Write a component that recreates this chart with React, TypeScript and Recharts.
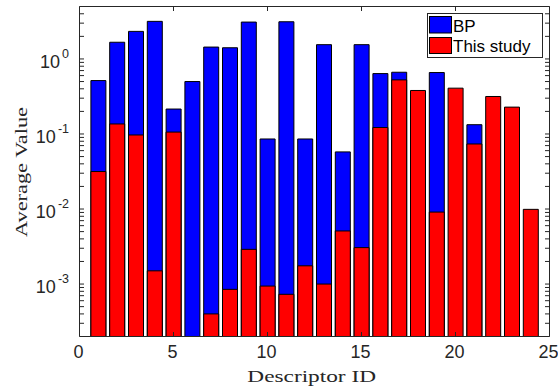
import React from 'react';
import { BarChart, Bar, XAxis, YAxis } from 'recharts';

// descriptor ids and average values
const ids = [1, 2, 3, 4, 5, 6, 7, 8, 9, 10, 11, 12, 13, 14, 15, 16, 17, 18, 19, 20, 21, 22, 23, 24];
const bpValues = [
    0.515, 1.67, 2.33, 3.17, 0.215, 0.5, 1.44, 1.41, 3.1, 0.0858, 3.13, 0.0858,
    1.55, 0.0577, 1.55, 0.638, 0.665, null, 0.659, null, 0.133, null, null, null,
];
const studyValues = [
    0.0316, 0.136, 0.097, 0.0015, 0.106, null, 0.0004, 0.00085, 0.0029, 0.00094, 0.00073, 0.00175,
    0.001, 0.0051, 0.00306, 0.122, 0.526, 0.38, 0.0091, 0.408, 0.0736, 0.316, 0.228, 0.0099,
];

const xTicks = [0, 5, 10, 15, 20, 25];
const yMajor = [0.001, 0.01, 0.1, 1];
const yExponents = ['-3', '-2', '-1', '0'];
const yMinor = [
    0.0003, 0.0004, 0.0005, 0.0006, 0.0007, 0.0008, 0.0009,
    0.002, 0.003, 0.004, 0.005, 0.006, 0.007, 0.008, 0.009,
    0.02, 0.03, 0.04, 0.05, 0.06, 0.07, 0.08, 0.09,
    0.2, 0.3, 0.4, 0.5, 0.6, 0.7, 0.8, 0.9,
    2, 3, 4,
];
const yTicks = [...yMinor, ...yMajor].sort((a, b) => a - b);

const data = ids.map((id, i) => ({ id, bp: bpValues[i], study: studyValues[i] }));

const AX = '#262626';
const SANS = '"Liberation Sans", Arial, sans-serif';
const SERIF = '"Liberation Serif", "Times New Roman", serif';
const TICK_LEN = 4.5;

const LeftTick = (props: any) => {
    const { x, y, payload } = props;
    const idx = yMajor.indexOf(payload.value);
    return (
        <g>
            <line x1={x} x2={x + TICK_LEN} y1={y} y2={y} stroke={AX} />
            {idx >= 0 && (
                <text x={x - 10.5} y={y + 9} textAnchor="end" fontFamily={SANS} fontSize={18} fill={AX}>
                    10
                    <tspan dx={2} dy={-10} fontSize={12.5}>{yExponents[idx]}</tspan>
                </text>
            )}
        </g>
    );
};

const RightTick = (props: any) => {
    const { x, y } = props;
    return <line x1={x} x2={x - TICK_LEN} y1={y} y2={y} stroke={AX} />;
};

const BottomTick = (props: any) => {
    const { x, y, payload } = props;
    return (
        <g>
            <line x1={x} x2={x} y1={y} y2={y - TICK_LEN} stroke={AX} />
            <text x={x - 1} y={y + 21.8} textAnchor="middle" fontFamily={SANS} fontSize={18} fill={AX}>
                {payload.value}
            </text>
        </g>
    );
};

const TopTick = (props: any) => {
    const { x, y } = props;
    return <line x1={x} x2={x} y1={y} y2={y + TICK_LEN} stroke={AX} />;
};

export default function App() {
    return (
        <div style={{ position: 'absolute', left: 0, top: 0, width: 558, height: 386, background: '#fff' }}>
            <BarChart
                width={558}
                height={386}
                data={data}
                margin={{ top: 5.5, right: 7.5, bottom: 48.5, left: 78.5 }}
            >
                <XAxis
                    xAxisId="b"
                    dataKey="id"
                    type="number"
                    domain={[0, 25]}
                    ticks={xTicks}
                    interval={0}
                    height={1}
                    tickSize={0}
                    tickMargin={0}
                    tickLine={false}
                    tick={<BottomTick />}
                    axisLine={{ stroke: AX }}
                />
                <XAxis
                    xAxisId="t"
                    orientation="top"
                    dataKey="id"
                    type="number"
                    domain={[0, 25]}
                    ticks={xTicks}
                    interval={0}
                    height={1}
                    tickSize={0}
                    tickMargin={0}
                    tickLine={false}
                    tick={<TopTick />}
                    axisLine={{ stroke: AX }}
                />
                <YAxis
                    yAxisId="l"
                    type="number"
                    scale="log"
                    domain={[0.0002, 5]}
                    allowDataOverflow
                    ticks={yTicks}
                    interval={0}
                    width={1}
                    tickSize={0}
                    tickMargin={0}
                    tickLine={false}
                    tick={<LeftTick />}
                    axisLine={{ stroke: AX }}
                />
                <YAxis
                    yAxisId="r"
                    orientation="right"
                    type="number"
                    scale="log"
                    domain={[0.0002, 5]}
                    allowDataOverflow
                    ticks={yTicks}
                    interval={0}
                    width={1}
                    tickSize={0}
                    tickMargin={0}
                    tickLine={false}
                    tick={<RightTick />}
                    axisLine={{ stroke: AX }}
                />
                <Bar
                    dataKey="bp"
                    name="BP"
                    xAxisId="t"
                    yAxisId="l"
                    fill="#0000ff"
                    stroke="#000"
                    strokeWidth={1}
                    barSize={15}
                    isAnimationActive={false}
                />
                <Bar
                    dataKey="study"
                    name="This study"
                    xAxisId="b"
                    yAxisId="l"
                    fill="#ff0000"
                    stroke="#000"
                    strokeWidth={1}
                    barSize={15}
                    isAnimationActive={false}
                />
            </BarChart>
            <svg
                width={558}
                height={386}
                style={{ position: 'absolute', left: 0, top: 0, pointerEvents: 'none' }}
            >
                <text
                    transform="translate(26.5,172) rotate(-90)"
                    textAnchor="middle"
                    fontFamily={SERIF}
                    fontSize={17}
                    fill={AX}
                    textLength={130}
                    lengthAdjust="spacingAndGlyphs"
                >
                    Average Value
                </text>
                <text
                    x={311.7}
                    y={381.7}
                    textAnchor="middle"
                    fontFamily={SERIF}
                    fontSize={17}
                    fill={AX}
                    textLength={128.7}
                    lengthAdjust="spacingAndGlyphs"
                >
                    Descriptor ID
                </text>
                <rect x={427.5} y={13.5} width={115} height={44} fill="#fff" stroke={AX} />
                <rect x={429.5} y={16.5} width={22} height={16.5} fill="#0000ff" stroke="#000" />
                <rect x={429.5} y={37.5} width={22} height={16} fill="#ff0000" stroke="#000" />
                <text x={453} y={31.5} fontFamily={SANS} fontSize={17} fill="#000">BP</text>
                <text x={453} y={51.5} fontFamily={SANS} fontSize={17} fill="#000">This study</text>
            </svg>
        </div>
    );
}
